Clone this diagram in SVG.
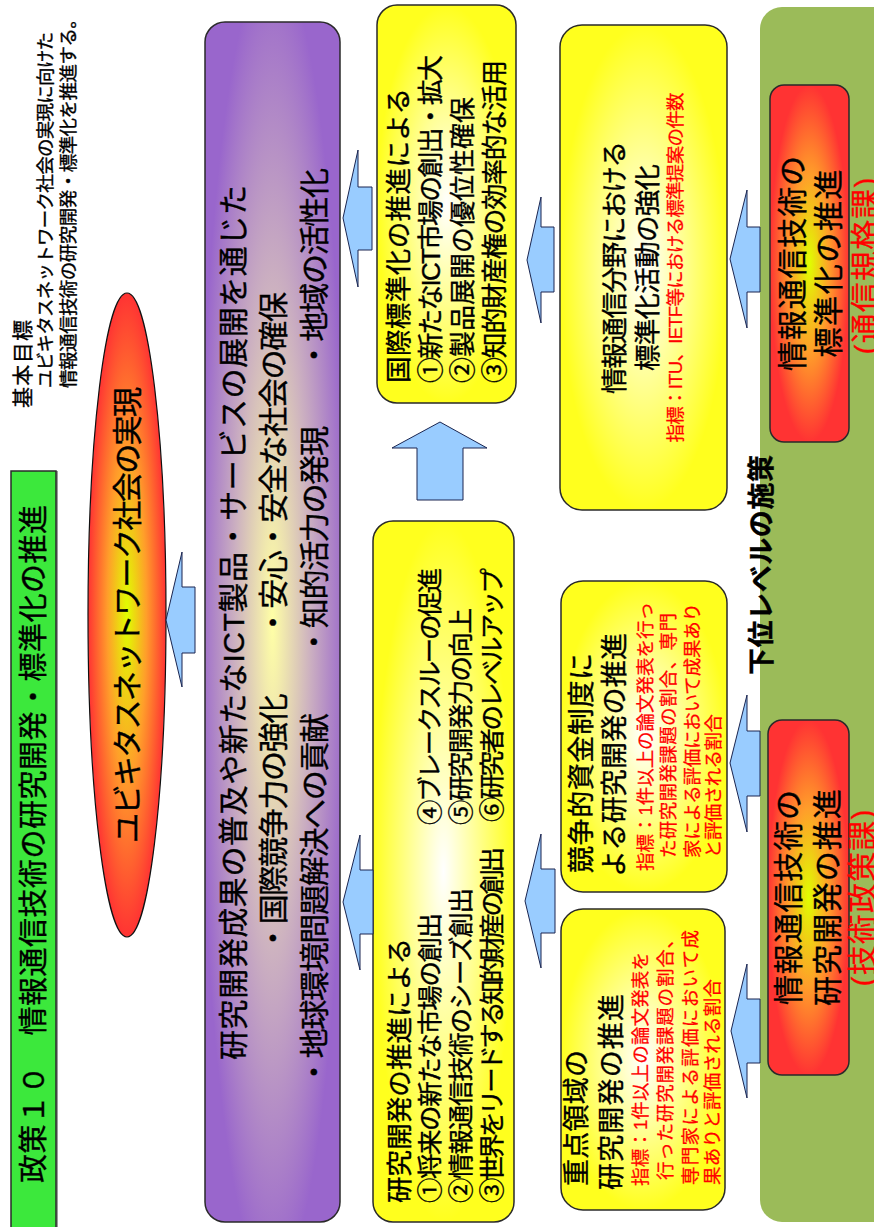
<svg xmlns="http://www.w3.org/2000/svg" width="874" height="1227" viewBox="0 0 874 1227">
<defs>
<style>
.t{font-family:'Liberation Sans','Noto Sans CJK JP',sans-serif;dominant-baseline:central;fill:#000;stroke:#000;stroke-width:0.35}
.r{fill:#ff0000;stroke:#ff0000;stroke-width:0.25}
.m{text-anchor:middle}
.b{font-weight:bold}
.box{stroke:#2a2a2a;stroke-width:1.5}
.arrow{fill:#99ccff;stroke:#1a2550;stroke-width:1;stroke-linejoin:miter}
</style>
<radialGradient id="gY" cx="0.5" cy="0.5" r="0.5">
<stop offset="0" stop-color="#ffffff"/>
<stop offset="0.45" stop-color="#ffff9a"/>
<stop offset="1" stop-color="#ffff1e"/>
</radialGradient>
<radialGradient id="gP" cx="0.5" cy="0.5" r="0.55">
<stop offset="0" stop-color="#ffffa6"/>
<stop offset="0.5" stop-color="#cdb2c0"/>
<stop offset="1" stop-color="#9966cc"/>
</radialGradient>
<radialGradient id="gO" cx="0.5" cy="0.5" r="0.5">
<stop offset="0" stop-color="#e0ff00"/>
<stop offset="0.5" stop-color="#ff9e2a"/>
<stop offset="1" stop-color="#ff3333"/>
</radialGradient>
</defs>
<rect width="874" height="1227" fill="#ffffff"/>
<g transform="translate(0,1227) rotate(-90)">
<g id="title">
<rect x="-10" y="13" width="766" height="45" fill="#9a9a9a"/>
<rect x="-8" y="11" width="764" height="45" fill="#3ce83c" class="box"/>
<text class="t" x="44" y="33.5" font-size="29" textLength="678">政策１０　情報通信技術の研究開発・標準化の推進</text>
</g>
<g id="goal">
<text class="t" x="819" y="22" font-size="21" textLength="88">基本目標</text>
<text class="t" x="839" y="45.5" font-size="18.5" textLength="356">ユビキタスネットワーク社会の実現に向けた</text>
<text class="t" x="839" y="68" font-size="18.5" textLength="378">情報通信技術の研究開発・標準化を推進する。</text>
</g>
<g id="ubiquitous">
<ellipse cx="612" cy="127" rx="322" ry="39" fill="url(#gO)" stroke="#111" stroke-width="1.2"/>
<text class="t" x="384" y="127" font-size="30" textLength="456">ユビキタスネットワーク社会の実現</text>
</g>
<g id="outcome">
<rect x="5" y="205" width="1200" height="135" rx="20" fill="url(#gP)" class="box"/>
<text class="t" x="167" y="233" font-size="30" textLength="875">研究開発成果の普及や新たなICT製品・サービスの展開を通じた</text>
<text class="t" x="274" y="273" font-size="30" textLength="661">・国際競争力の強化　　・安心・安全な社会の確保</text>
<text class="t" x="140" y="314" font-size="30" textLength="919">・地球環境問題解決への貢献　　・知的活力の発現　　・地域の活性化</text>
</g>
<g id="std-effect">
<rect x="824" y="377" width="398" height="139" rx="20" fill="url(#gY)" class="box"/>
<text class="t" x="844" y="399" font-size="26.5" textLength="295">国際標準化の推進による</text>
<text class="t" x="844" y="431" font-size="26" textLength="328">①新たなICT市場の創出・拡大</text>
<text class="t" x="844" y="463" font-size="26" textLength="286">②製品展開の優位性確保</text>
<text class="t" x="844" y="495" font-size="26" textLength="323">③知的財産権の効率的な活用</text>
</g>
<g id="rd-effect">
<rect x="5" y="373" width="701" height="141" rx="20" fill="url(#gY)" class="box"/>
<text class="t" x="24" y="400" font-size="26.5" textLength="265">研究開発の推進による</text>
<text class="t" x="24" y="430" font-size="25.5" textLength="290">①将来の新たな市場の創出</text>
<text class="t" x="24" y="461" font-size="25.5" textLength="315">②情報通信技術のシーズ創出</text>
<text class="t" x="24" y="492" font-size="25.5" textLength="356">③世界をリードする知的財産の創出</text>
<text class="t" x="402" y="430" font-size="25.5" textLength="257">④ブレークスルーの促進</text>
<text class="t" x="402" y="461" font-size="25.5" textLength="217">⑤研究開発力の向上</text>
<text class="t" x="405" y="492" font-size="25.5" textLength="254">⑥研究者のレベルアップ</text>
</g>
<g id="lower-level">
<rect x="5" y="760" width="1215" height="150" rx="22" fill="#9bbb59"/>
<text class="t b" x="552" y="762" font-size="27" textLength="220">下位レベルの施策</text>
</g>
<g id="std-activity">
<rect x="717" y="560" width="485" height="167" rx="22" fill="url(#gY)" class="box"/>
<text class="t m" x="959.5" y="615" font-size="26.5" textLength="253">情報通信分野における</text>
<text class="t m" x="959.5" y="648" font-size="26.5" textLength="207">標準化活動の強化</text>
<text class="t m r" x="959.5" y="675" font-size="18.5" textLength="350">指標：ITU、IETF等における標準提案の件数</text>
</g>
<g id="competitive-fund">
<rect x="335" y="561" width="311" height="166" rx="22" fill="url(#gY)" class="box"/>
<text class="t" x="354" y="582" font-size="27" textLength="220">競争的資金制度に</text>
<text class="t" x="350" y="615" font-size="27" textLength="244">よる研究開発の推進</text>
<text class="t r" x="356" y="645" font-size="18.5" textLength="269">指標：1件以上の論文発表を行っ</text>
<text class="t r" x="369" y="668" font-size="18.5" textLength="245">た研究開発課題の割合、専門</text>
<text class="t r" x="369" y="692" font-size="18.5" textLength="255">家による評価において成果あり</text>
<text class="t r" x="369" y="713" font-size="18.5" textLength="144">と評価される割合</text>
</g>
<g id="priority-area">
<rect x="17" y="561" width="301" height="164" rx="22" fill="url(#gY)" class="box"/>
<text class="t" x="41" y="577" font-size="27" textLength="136">重点領域の</text>
<text class="t" x="37" y="612" font-size="27" textLength="196">研究開発の推進</text>
<text class="t r" x="41" y="640" font-size="18.5" textLength="234">指標：1件以上の論文発表を</text>
<text class="t r" x="47" y="665" font-size="18.5" textLength="250">行った研究開発課題の割合、</text>
<text class="t r" x="42" y="690" font-size="18.5" textLength="255">専門家による評価において成</text>
<text class="t r" x="42" y="712" font-size="18.5" textLength="206">果ありと評価される割合</text>
</g>
<g id="std-promotion">
<rect x="785" y="770" width="357" height="79" rx="14" fill="url(#gO)" class="box"/>
<text class="t m" x="963.5" y="792" font-size="30" textLength="215">情報通信技術の</text>
<text class="t m" x="963.5" y="828" font-size="30" textLength="188">標準化の推進</text>
<text class="t m r" x="961" y="865" font-size="30" textLength="177">(通信規格課)</text>
</g>
<g id="rd-promotion">
<rect x="152" y="768" width="355" height="81" rx="14" fill="url(#gO)" class="box"/>
<text class="t m" x="329.5" y="788" font-size="30" textLength="215">情報通信技術の</text>
<text class="t m" x="329.5" y="827" font-size="30" textLength="217">研究開発の推進</text>
<text class="t m r" x="329" y="862" font-size="30" textLength="177">(技術政策課)</text>
</g>
</g>
<g id="connectors">
<polygon class="arrow" points="166,620 182,552 182,587 195,587 195,653 182,653 182,687"/>
<polygon class="arrow" points="343,218 358,150 358,187 372,187 372,250 358,250 358,287"/>
<polygon class="arrow" points="343,902 360,835 360,870 373,870 373,934 360,934 360,970"/>
<polygon class="arrow" points="440,422 487,448 463,448 463,500 417,500 417,448 392,448"/>
<polygon class="arrow" points="527,260 541,197 541,227 554,227 554,292 541,292 541,323"/>
<polygon class="arrow" points="525,901 541,834 541,869 555,869 555,933 541,933 541,968"/>
<polygon class="arrow" points="730,259 747,190 747,227 760,227 760,292 747,292 747,328"/>
<polygon class="arrow" points="730,763 747,695 747,731 760,731 760,796 747,796 747,832"/>
<polygon class="arrow" points="731,1031 747,964 747,999 760,999 760,1063 747,1063 747,1098"/>
</g>
</svg>
